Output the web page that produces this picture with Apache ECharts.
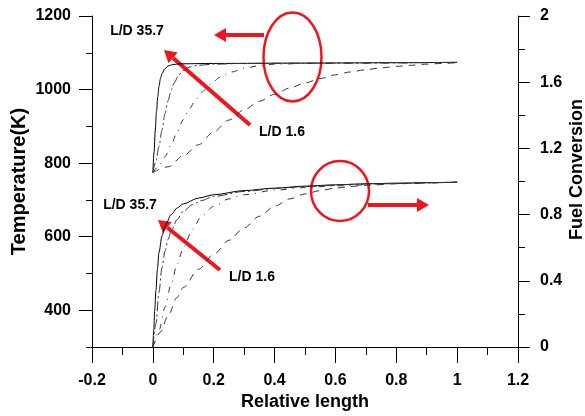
<!DOCTYPE html>
<html>
<head>
<meta charset="utf-8">
<script src="https://cdn.jsdelivr.net/npm/echarts@6/dist/echarts.min.js"></script>
<style>
  html, body { margin: 0; padding: 0; background: #fff; }
  #chart { width: 585px; height: 416px; }
</style>
</head>
<body>
<div id="chart"></div>
<script>
// temperature curves, [relative length, K]
var tempLD357 = [[0,774],[0.004,830],[0.008,890],[0.012,940],[0.016,980],[0.02,1008],[0.025,1030],[0.03,1043],[0.04,1057],[0.05,1064],[0.065,1068],[0.09,1070],[0.2,1071],[0.5,1072],[0.8,1073],[1,1074]];
var tempB = [[0,774],[0.01,805],[0.02,845],[0.03,890],[0.04,935],[0.05,970],[0.06,998],[0.07,1018],[0.085,1040],[0.1,1052],[0.12,1061],[0.15,1066],[0.2,1069],[0.3,1071],[0.6,1072],[1,1074]];
var tempC = [[0,774],[0.02,792],[0.04,818],[0.06,850],[0.08,885],[0.1,918],[0.12,947],[0.14,972],[0.16,993],[0.19,1015],[0.22,1033],[0.26,1048],[0.3,1058],[0.35,1065],[0.4,1069],[0.5,1071],[0.7,1072],[1,1074]];
var tempLD16 = [[0,774],[0.05,790],[0.1,820],[0.15,850],[0.2,885],[0.25,917],[0.3,945],[0.35,968],[0.4,987],[0.45,1004],[0.5,1018],[0.55,1030],[0.6,1040],[0.65,1048],[0.7,1054],[0.75,1059],[0.8,1063],[0.85,1066],[0.9,1069],[0.95,1071],[1,1073]];

// fuel conversion curves, [relative length, conversion]
var convLD357 = [[0,0],[0.003,0.1],[0.006,0.22],[0.01,0.34],[0.015,0.47],[0.02,0.57],[0.03,0.67],[0.04,0.73],[0.06,0.8],[0.08,0.84],[0.1,0.865],[0.15,0.9],[0.2,0.92],[0.3,0.945],[0.4,0.96],[0.5,0.972],[0.6,0.98],[0.7,0.986],[0.8,0.99],[0.9,0.993],[1,0.996]];
var convB = [[0,0],[0.01,0.14],[0.02,0.33],[0.03,0.48],[0.04,0.58],[0.05,0.65],[0.06,0.7],[0.08,0.77],[0.1,0.82],[0.13,0.86],[0.16,0.885],[0.2,0.91],[0.3,0.94],[0.4,0.957],[0.5,0.97],[0.7,0.985],[1,0.996]];
var convC = [[0,0],[0.02,0.1],[0.04,0.24],[0.06,0.38],[0.08,0.5],[0.1,0.6],[0.13,0.71],[0.16,0.79],[0.2,0.85],[0.25,0.895],[0.3,0.92],[0.4,0.948],[0.5,0.963],[0.6,0.974],[0.8,0.988],[1,0.996]];
var convLD16 = [[0,0],[0.025,0.09],[0.05,0.19],[0.08,0.3],[0.1,0.36],[0.15,0.47],[0.2,0.56],[0.25,0.645],[0.3,0.72],[0.35,0.79],[0.4,0.85],[0.45,0.895],[0.5,0.925],[0.55,0.945],[0.6,0.96],[0.65,0.97],[0.7,0.977],[0.8,0.986],[0.9,0.992],[1,0.996]];

// tick values
var tempTicks = [400, 600, 800, 1000, 1200];
var tempMinorTicks = [300, 500, 700, 900, 1100];

var RED = '#f0141e';
var FONT = 'Liberation Sans, Arial, sans-serif';

var chart = echarts.init(document.getElementById('chart'));

function arrow(x1, y1, x2, y2) {
  var dx = x2 - x1, dy = y2 - y1;
  var len = Math.sqrt(dx * dx + dy * dy);
  var ux = dx / len, uy = dy / len;
  var hl = 12, hw = 7;
  var bx = x2 - ux * hl, by = y2 - uy * hl;
  return [
    { type: 'line', shape: { x1: x1, y1: y1, x2: bx, y2: by }, style: { stroke: RED, lineWidth: 4 } },
    { type: 'polygon', shape: { points: [[x2, y2], [bx - uy * hw, by + ux * hw], [bx + uy * hw, by - ux * hw]] }, style: { fill: RED } }
  ];
}

function label(txt, x, y) {
  return { type: 'text', x: x, y: y, style: { text: txt, fill: '#000', font: 'bold 14px ' + FONT, textAlign: 'center', textVerticalAlign: 'middle' } };
}

function curve(data, axis, dash, color) {
  return {
    type: 'line',
    data: data,
    yAxisIndex: axis,
    symbol: 'none',
    smooth: 0.3,
    smoothMonotone: 'x',
    silent: true,
    lineStyle: { color: color || '#333', width: 1, type: dash }
  };
}

function fmt(v) { return String(+v.toFixed(1)); }

var labelStyle = { color: '#000', fontSize: 16, fontWeight: 'bold', fontFamily: FONT };
var nameStyle = { color: '#000', fontSize: 18, fontWeight: 'bold', fontFamily: FONT };

var graphics = [
  label('L/D 35.7', 137, 31),
  label('L/D 1.6', 282, 132),
  label('L/D 35.7', 130, 205),
  label('L/D 1.6', 252, 277),
  { type: 'ellipse', shape: { cx: 292.5, cy: 57, rx: 29, ry: 44.5 }, style: { fill: 'none', stroke: RED, lineWidth: 2.5 } },
  { type: 'ellipse', shape: { cx: 340, cy: 191, rx: 29, ry: 30 }, style: { fill: 'none', stroke: RED, lineWidth: 2.5 } }
].concat(arrow(264, 35, 214, 35))
 .concat(arrow(250, 125, 164, 50))
 .concat(arrow(368, 205, 429, 205))
 .concat(arrow(220, 270, 158, 220));

var option = {
  animation: false,
  grid: { left: 92, right: 67, top: 16, bottom: 69, containLabel: false, outerBoundsMode: 'none' },
  xAxis: {
    type: 'value',
    min: -0.2,
    max: 1.2,
    interval: 0.2,
    name: 'Relative length',
    nameLocation: 'middle',
    nameGap: 46,
    nameMoveOverlap: false,
    nameTextStyle: nameStyle,
    axisLine: { onZero: false, lineStyle: { color: '#000', width: 1 } },
    axisTick: { length: 16, lineStyle: { color: '#000' } },
    minorTick: { show: true, splitNumber: 2, length: 8, lineStyle: { color: '#000' } },
    axisLabel: Object.assign({ margin: 26, formatter: fmt }, labelStyle),
    splitLine: { show: false }
  },
  yAxis: [
    {
      type: 'value',
      position: 'left',
      min: 300,
      max: 1200,
      name: 'Temperature(K)',
      nameLocation: 'middle',
      nameRotate: 90,
      nameGap: 63,
      nameMoveOverlap: false,
      nameTextStyle: Object.assign({}, nameStyle, { fontSize: 20 }),
      axisLine: { show: true, onZero: false, lineStyle: { color: '#000', width: 1 } },
      axisTick: { show: true, length: 13, customValues: tempTicks, lineStyle: { color: '#000' } },
      axisLabel: Object.assign({ margin: 21, customValues: tempTicks, formatter: function (v) { return String(v); } }, labelStyle),
      splitLine: { show: false }
    },
    {
      type: 'value',
      position: 'left',
      min: 300,
      max: 1200,
      axisLine: { show: false, onZero: false },
      axisTick: { show: true, length: 6, customValues: tempMinorTicks, lineStyle: { color: '#000' } },
      axisLabel: { show: false },
      splitLine: { show: false }
    },
    {
      type: 'value',
      position: 'right',
      min: 0,
      max: 2,
      interval: 0.4,
      name: 'Fuel Conversion',
      nameLocation: 'middle',
      nameRotate: 90,
      nameGap: 50,
      nameMoveOverlap: false,
      nameTextStyle: Object.assign({ padding: [0, 0, 0, 24] }, nameStyle),
      axisLine: { show: true, onZero: false, lineStyle: { color: '#000', width: 1 } },
      axisTick: { length: 12, lineStyle: { color: '#000' } },
      minorTick: { show: true, splitNumber: 2, length: 7, lineStyle: { color: '#000' } },
      axisLabel: Object.assign({ margin: 22, formatter: fmt }, labelStyle),
      splitLine: { show: false }
    }
  ],
  series: [
    curve(tempLD357, 0, 'solid', '#000'),
    curve(tempB, 0, [10, 3, 2, 3]),
    curve(tempC, 0, [6, 6, 1, 6]),
    curve(tempLD16, 0, [7, 6]),
    curve(convLD357, 2, 'solid', '#000'),
    curve(convB, 2, [10, 3, 2, 3]),
    curve(convC, 2, [6, 6, 1, 6]),
    curve(convLD16, 2, [7, 6])
  ],
  graphic: graphics
};

chart.setOption(option);
</script>
</body>
</html>
